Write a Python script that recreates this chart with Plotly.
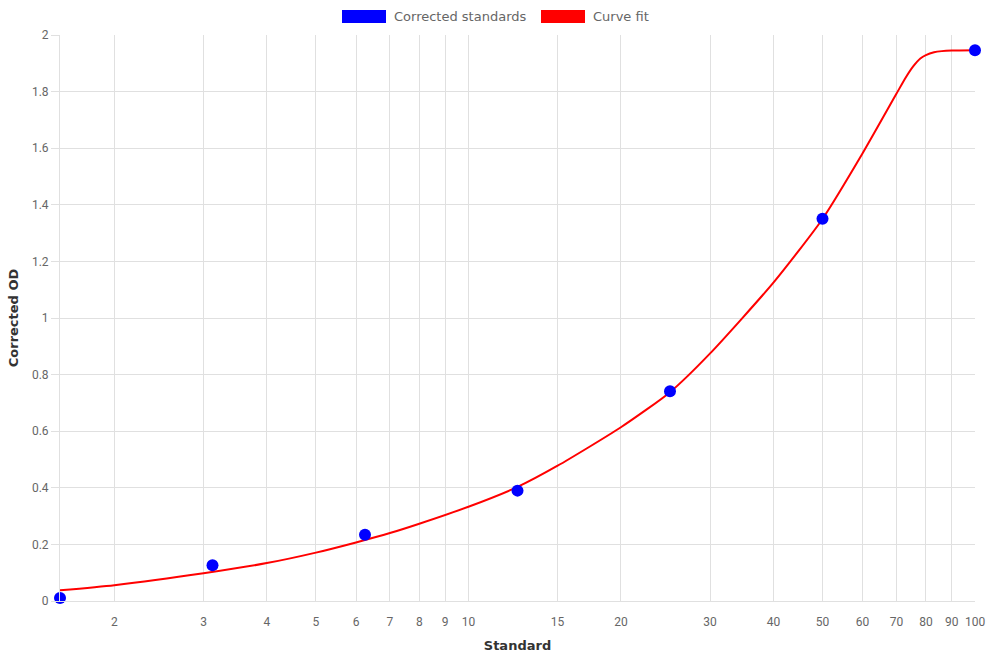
import plotly.graph_objects as go

# Corrected standards (measured points)
std_x = [1.5625, 3.125, 6.25, 12.5, 25, 50, 100]
std_y = [0.011, 0.126, 0.234, 0.390, 0.741, 1.351, 1.946]

# Curve fit
fit_x = [1.5625, 2, 3, 4, 5, 6, 7, 8, 10, 12.5, 15, 20, 25, 30, 40, 50, 60, 70, 73, 75.5, 78, 80, 83, 86, 90, 100]
fit_y = [0.038, 0.056, 0.098, 0.134, 0.171, 0.207, 0.240, 0.273, 0.333, 0.403, 0.478, 0.614, 0.738, 0.875, 1.125, 1.350, 1.582, 1.793, 1.850, 1.889, 1.917, 1.929, 1.939, 1.943, 1.945, 1.946]

x_ticks = [2, 3, 4, 5, 6, 7, 8, 9, 10, 15, 20, 30, 40, 50, 60, 70, 80, 90, 100]
x_tick_text = [str(v) for v in x_ticks]

legend_names = ["Corrected standards", "Curve fit"]
legend_colors = ["#0000ff", "#ff0000"]

grid = "#e0e0e0"
tick_font = dict(family="Roboto, Arial, sans-serif", size=12, color="#666666")
title_font = dict(family="'DejaVu Sans', sans-serif", size=13, color="#333333")
legend_font = dict(family="'DejaVu Sans', sans-serif", size=13, color="#666666")

fig = go.Figure()
fig.add_trace(go.Scatter(
    x=fit_x, y=fit_y, mode="lines", name=legend_names[1],
    line=dict(color=legend_colors[1], width=2, shape="spline", smoothing=0.6),
    showlegend=False, cliponaxis=False,
))
fig.add_trace(go.Scatter(
    x=std_x, y=std_y, mode="markers", name=legend_names[0],
    marker=dict(color=legend_colors[0], size=12, line=dict(width=0)),
    showlegend=False, cliponaxis=False,
))

# custom legend (boxes + text) at top centre
legend_box_x = [342, 541]
for i, name in enumerate(legend_names):
    x0 = legend_box_x[i]
    fig.add_shape(type="rect", xref="paper", yref="paper",
                  x0=(x0 - 60) / 915, x1=(x0 + 44 - 60) / 915,
                  y0=(601 - 23) / 566, y1=(601 - 10) / 566,
                  fillcolor=legend_colors[i], line=dict(width=0))
    fig.add_annotation(xref="paper", yref="paper",
                       x=(x0 + 50 - 60) / 915, y=(601 - 16.5) / 566,
                       text=name, showarrow=False, xanchor="left", yanchor="middle",
                       font=legend_font)

fig.update_layout(
    width=990, height=660,
    margin=dict(l=60, r=15, t=35, b=59),
    paper_bgcolor="white", plot_bgcolor="white",
    showlegend=False,
    xaxis=dict(
        type="log", range=[0.19382, 2.0], automargin=False,
        tickvals=x_ticks, ticktext=x_tick_text,
        showgrid=True, gridcolor=grid, gridwidth=1,
        showline=True, linecolor=grid, linewidth=1, mirror=False,
        ticks="outside", ticklen=10, tickcolor="rgba(0,0,0,0)",
        tickfont=tick_font, zeroline=False,
        title=dict(text="<b>Standard</b>", font=title_font, standoff=12),
    ),
    yaxis=dict(
        range=[0, 2], dtick=0.2, tick0=0, automargin=False,
        showgrid=True, gridcolor=grid, gridwidth=1,
        showline=True, linecolor=grid, linewidth=1,
        ticks="outside", ticklen=8, tickcolor=grid,
        tickfont=tick_font, zeroline=False,
        title=dict(text="<b>Corrected OD</b>", font=title_font, standoff=10),
    ),
)

fig.write_html("out.html")
